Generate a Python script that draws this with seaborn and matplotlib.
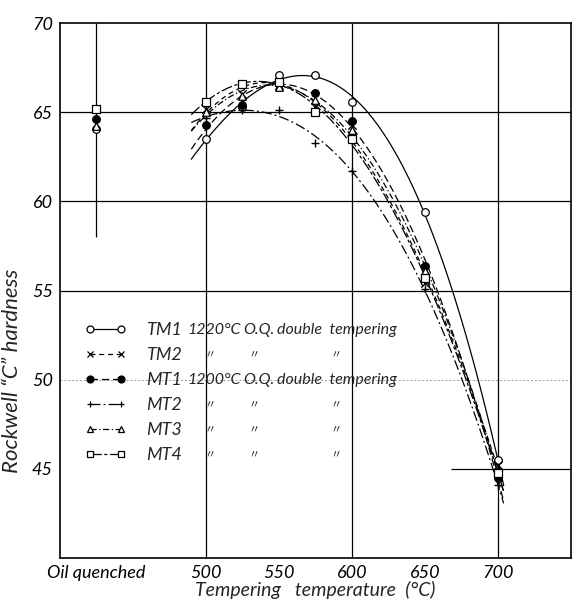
import numpy as np
import matplotlib
matplotlib.use("Agg")
import matplotlib.pyplot as plt
import seaborn as sns
from matplotlib.lines import Line2D

# ---------------- data ----------------
temps = [500, 525, 550, 575, 600, 650, 700]
tm1 = [63.5, 65.3, 67.1, 67.1, 65.6, 59.4, 45.5]
tm2 = [65.2, 66.0, 66.5, 65.3, 64.3, 55.4, 45.2]
mt1 = [64.3, 65.4, 66.6, 66.1, 64.5, 56.4, 44.5]
mt2 = [64.7, 65.1, 65.1, 63.3, 61.7, 55.1, 44.1]
mt3 = [65.0, 65.9, 66.4, 65.7, 64.0, 56.1, 44.9]
mt4 = [65.6, 66.6, 66.7, 65.0, 63.5, 55.7, 44.8]

oq_temp = 425  # position of the "Oil quenched" column
oq_tm1, oq_tm2, oq_mt1, oq_mt3, oq_mt4 = 64.05, 65.17, 64.6, 64.2, 65.17

names = ["TM1", "TM2", "MT1", "MT2", "MT3", "MT4"]
x_ticks = [425, 500, 550, 600, 650, 700]
x_labels = ["Oil quenched", "500", "550", "600", "650", "700"]
y_ticks = [45, 50, 55, 60, 65, 70]

# ---------------- style ----------------
sns.set_style("white")
plt.rcParams["font.family"] = ["Lato", "DejaVu Sans", "Noto Sans CJK JP"]
plt.rcParams["font.style"] = "italic"

fig = plt.figure(figsize=(5.76, 6.06), dpi=100)
ax = fig.add_axes([0.104, 0.079, 0.887, 0.883])

series = [
    (tm1, oq_tm1, "o", "white", "-"),
    (tm2, oq_tm2, "x", "black", (0, (4, 3))),
    (mt1, oq_mt1, "o", "black", (0, (6, 3))),
    (mt2, None, "+", "black", (0, (8, 2.5, 1.5, 2.5))),
    (mt3, oq_mt3, "^", "white", (0, (5, 2, 1, 2))),
    (mt4, oq_mt4, "s", "white", (0, (9, 2, 2.5, 2))),
]

handles = []
for (vals, oq, mk, fc, ls) in series:
    ax.set_xlim(490, 704)
    sns.regplot(x=np.array(temps, float), y=np.array(vals, float), order=3, ci=None,
                scatter=False, truncate=False, ax=ax,
                line_kws=dict(color="black", lw=0.9, linestyle=ls))
    xs = list(temps) + ([oq_temp] if oq is not None else [])
    ys = list(vals) + ([oq] if oq is not None else [])
    if mk in ("x", "+"):
        sns.scatterplot(x=xs, y=ys, marker=mk, color="black", s=36, linewidth=1.0, ax=ax, zorder=5)
    else:
        sns.scatterplot(x=xs, y=ys, marker=mk, facecolor=fc, edgecolor="black", s=30,
                        linewidth=0.9, ax=ax, zorder=5)
    handles.append(Line2D([], [], color="black", lw=0.9, linestyle=ls, marker=mk,
                          mfc=fc, mec="black", ms=5, mew=0.9))

# ---------------- frame / grid ----------------
ax.set_xlim(400, 750)
ax.set_ylim(40, 70)
ax.hlines([55, 60, 65], 400, 750, color="black", lw=0.9, zorder=0)
ax.hlines(45, 668, 750, color="black", lw=0.9, zorder=0)
ax.hlines(50, 400, 750, color="0.6", lw=0.7, linestyle=(0, (2, 2)), zorder=0)
ax.vlines([500, 600, 700], 40, 70, color="black", lw=0.9, zorder=0)
ax.vlines(425, 58, 70, color="black", lw=0.9, zorder=0)
for s in ax.spines.values():
    s.set_color("black")
    s.set_linewidth(1.2)

ax.set_xticks(x_ticks)
ax.set_xticklabels(x_labels)
ax.set_yticks(y_ticks)
ax.tick_params(direction="in", length=8, width=0.9, colors="black", labelsize=13, pad=5)
ax.set_xlabel("Tempering   temperature  (°C)", fontsize=14, labelpad=0)
ax.set_ylabel("Rockwell “C” hardness", fontsize=16)
ax.yaxis.set_label_coords(-0.074, 0.35)

# ---------------- legend ----------------
def ax_x(px):
    return (px - 60) / 511.0

def ax_y(py):
    return 1 - (py - 23) / 535.0

leg = ax.legend(handles, names, loc="upper left", bbox_to_anchor=(ax_x(85), ax_y(322)),
                borderpad=0, borderaxespad=0, frameon=False, numpoints=2,
                handlelength=2.3, handletextpad=1.1, labelspacing=0.5, fontsize=13)
fig.canvas.draw()
inv = ax.transAxes.inverted()
rows = []
for t in leg.get_texts():
    bb = t.get_window_extent()
    rows.append(inv.transform(((bb.x0 + bb.x1) / 2, (bb.y0 + bb.y1) / 2))[1])

full_rows = {0: "1220°C", 2: "1200°C"}
for i, yy in enumerate(rows):
    if i in full_rows:
        ax.text(ax_x(187), yy, full_rows[i], transform=ax.transAxes, va="center", fontsize=11.5)
        ax.text(ax_x(243), yy, "O.Q.", transform=ax.transAxes, va="center", fontsize=11.5)
        ax.text(ax_x(277), yy, "double  tempering", transform=ax.transAxes, va="center", fontsize=11.5)
    else:
        for px in (210, 254, 336):
            ax.text(ax_x(px), yy, "〃", transform=ax.transAxes, va="center", ha="center",
                    fontsize=8, family=["Noto Sans CJK JP"])

fig.savefig("out.png", dpi=100)
